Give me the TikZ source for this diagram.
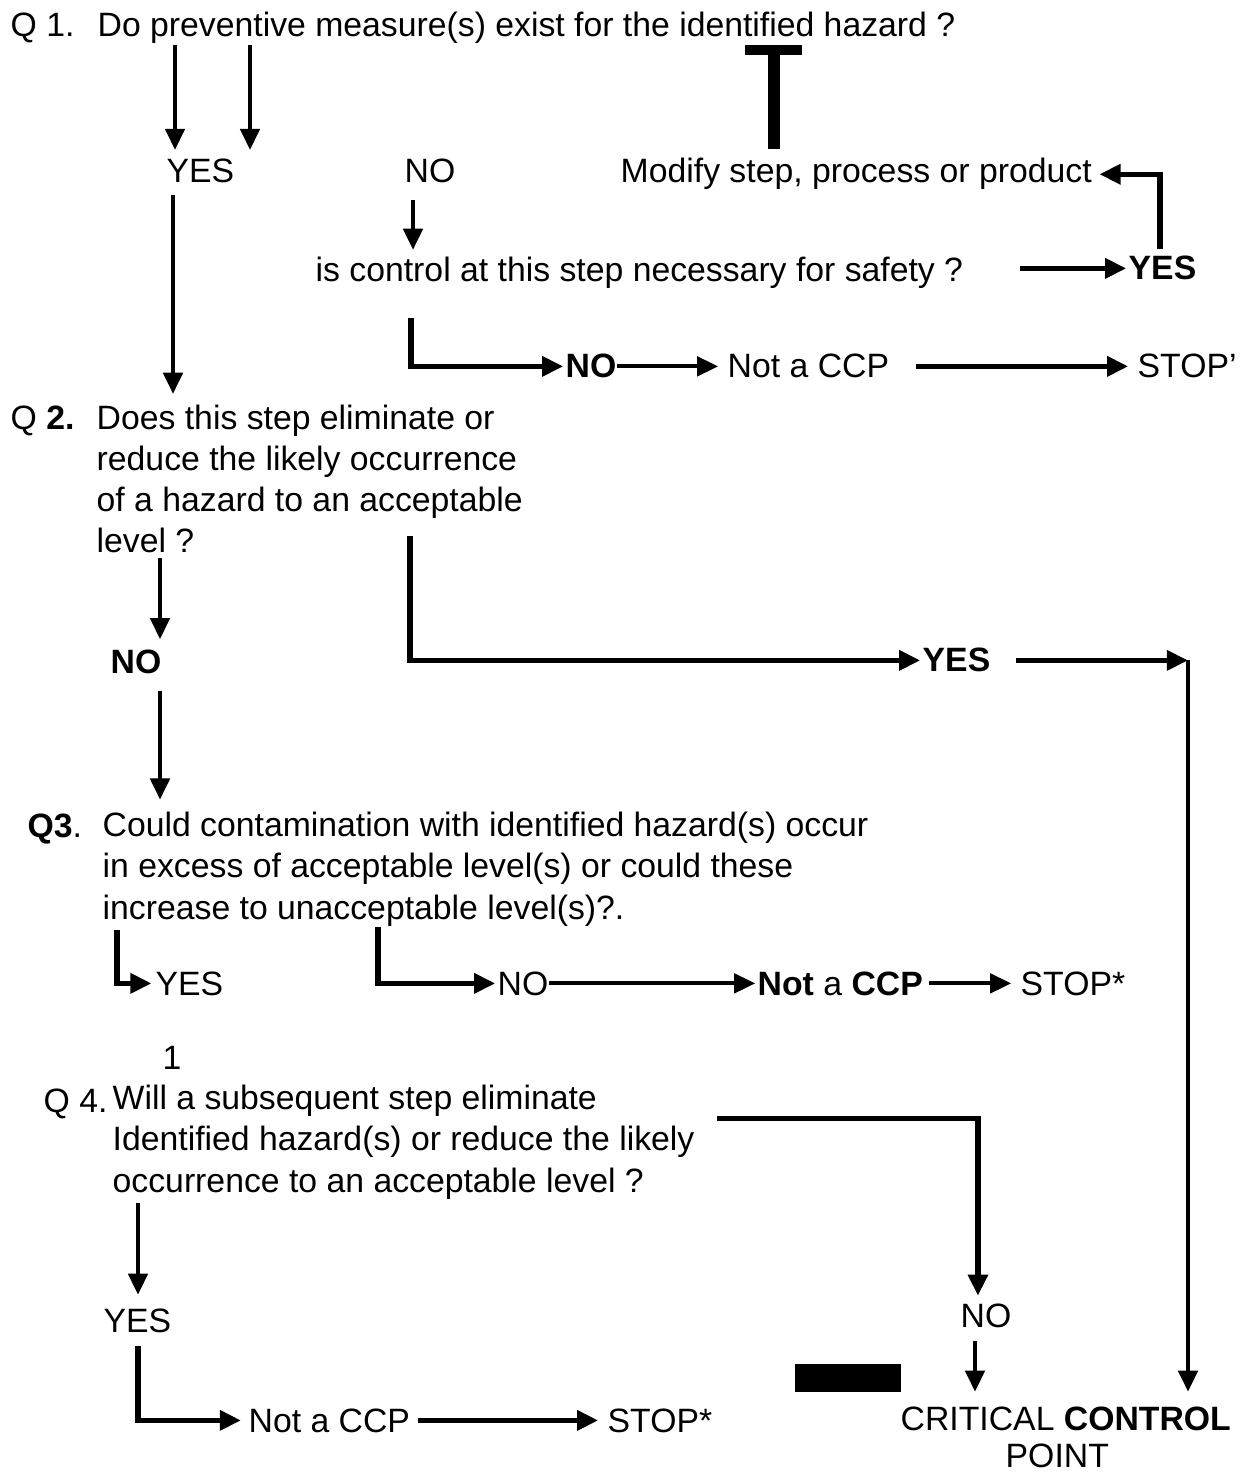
\documentclass[tikz,border=0pt]{standalone}
\usepackage{fontspec}
\setmainfont{Liberation Sans}
\usetikzlibrary{arrows.meta,calc}

\tikzset{
  txt/.style={anchor=base west, inner sep=0pt, font=\fontsize{9.6}{11.7}\selectfont},
  btxt/.style={txt, font=\fontsize{9.6}{11.7}\selectfont\bfseries},
  qtxt/.style={txt, align=left},
  arr/.style={line width=1.1pt, -{Triangle[length=6pt,width=5.5pt]}},
  thk/.style={line width=1.5pt},
}

\begin{document}
\begin{tikzpicture}[x=0.01cm,y=-0.01cm]
\useasboundingbox (0,0) rectangle (1256,1474);

% question 1
\node[txt] (q1lab) at (10,37) {Q 1.};
\node[txt] (q1) at (97,37) {Do preventive measure(s) exist for the identified hazard ?};
\node[txt] (yes1) at (166,183) {YES};
\node[txt] (no1) at (404,183) {NO};
\node[txt] (modify) at (620,183) {Modify step, process or product};
\node[txt] (ctrl) at (315,282) {is control at this step necessary for safety ?};
\node[btxt] (yes2) at (1128,280) {YES};
\node[btxt] (no2) at (565,378) {NO};
\node[txt] (notccp1) at (727,378) {Not a CCP};
\node[txt] (stop1) at (1137,378) {STOP’};

% question 2 (multi-line nodes sit on their last baseline)
\node[txt] (q2lab) at (10,430) {Q \textbf{2.}};
\node[qtxt] (q2) at (96,553) {Does this step eliminate or\\reduce the likely occurrence\\of a hazard to an acceptable\\level ?};
\node[btxt] (no3) at (110,674) {NO};
\node[btxt] (yes3) at (922,672) {YES};

% question 3
\node[txt] (q3lab) at (27,837) {\textbf{Q3}.};
\node[qtxt] (q3) at (102,919) {Could contamination with identified hazard(s) occur\\in excess of acceptable level(s) or could these\\increase to unacceptable level(s)?.};
\node[txt] (yes4) at (155,995) {YES};
\node[txt] (no4) at (497,995) {NO};
\node[txt] (notccp2) at (757,995) {\textbf{Not} a \textbf{CCP}};
\node[txt] (stop2) at (1020,995) {STOP*};
\node[txt] (one) at (162,1069) {1};

% question 4
\node[txt] (q4lab) at (43,1112) {Q 4.};
\node[qtxt] (q4) at (112,1192) {Will a subsequent step eliminate\\Identified hazard(s) or reduce the likely\\occurrence to an acceptable level ?};
\node[txt] (no5) at (960,1327) {NO};
\node[txt] (yes5) at (103,1332) {YES};
\node[txt] (notccp3) at (248,1432) {Not a CCP};
\node[txt] (stop3) at (607,1432) {STOP*};
\node[txt] (ccp) at (900,1430) {CRITICAL \textbf{CONTROL}};
\node[txt] (point) at (1005,1467) {POINT};
\coordinate (rc) at (1188,0);

% connectors
\draw[arr,shorten >=2.5pt] (q1.south -| 175,0) -- (yes1.north -| 175,0);
\draw[arr,shorten >=2.5pt] (q1.south -| 250,0) -- (yes1.north -| 250,0);
\draw[line width=3.3pt,shorten <=2.5pt] (modify.north -| 774,0) -- (774,50);
\draw[line width=2.8pt] (745,50) -- (802,50);
\draw[arr,thk,shorten <=2pt,shorten >=2pt] (yes2.north -| 1160,0) |- (modify.east);
\draw[arr,shorten <=3pt,shorten >=3pt] (yes1.south -| 173,0) -- (q2.north -| 173,0);
\draw[arr,shorten <=4.5pt,shorten >=2pt] (no1.south -| 413,0) -- (ctrl.north -| 413,0);
\draw[arr,thk,shorten <=16pt,shorten >=0.5pt] (ctrl.east |- yes2.west) -- (yes2.west);
\draw[arr,thk,shorten <=8pt,shorten >=0.5pt] (ctrl.south -| 411,0) |- (no2.west);
\draw[arr,shorten >=2.5pt] (no2.east) -- (notccp1.west);
\draw[arr,thk,shorten <=7.5pt,shorten >=2.5pt] (notccp1.east) -- (stop1.west);

\draw[arr,shorten <=1pt,shorten >=3pt] (q2.south -| 160,0) -- (no3.north -| 160,0);
\draw[arr,thk,shorten >=0.5pt] ($(q2.south -| 410,0)+(0,-18)$) |- (yes3.west);
\draw[arr,thk,shorten <=7pt] (yes3.east) -- (yes3.east -| rc);
\draw[arr,shorten >=4pt] (yes3.east -| rc) -- (ccp.north -| rc);
\draw[arr,shorten <=4.5pt,shorten >=3.4pt] (no3.south -| 160,0) -- (q3.north -| 160,0);

\draw[arr,thk,shorten <=1pt,shorten >=1pt] (q3.south -| 117,0) |- (yes4.west);
\draw[arr,thk,shorten >=0.5pt] (q3.south -| 378,0) |- (no4.west);
\draw[arr,shorten >=0.5pt] (no4.east) -- (notccp2.west);
\draw[arr,shorten <=1.5pt,shorten >=2.5pt] (notccp2.east) -- (stop2.west);

\draw[arr,thk,shorten >=2pt] ($(q4.north east)+(22,34)$) -| ([xshift=-2.3pt]no5.north);
\draw[arr,shorten <=3.7pt,shorten >=4pt] (no5.south -| 975,0) -- (ccp.north -| 975,0);
\draw[arr,shorten <=1pt,shorten >=3.7pt] (q4.south -| 138,0) -- (yes5.north -| 138,0);
\draw[arr,thk,shorten <=3.7pt,shorten >=2pt] (yes5.south -| 138,0) |- (notccp3.west);
\draw[arr,thk,shorten <=2pt,shorten >=2.5pt] (notccp3.east) -- (stop3.west);
\fill (795,1364) rectangle (901,1392);
\end{tikzpicture}
\end{document}
